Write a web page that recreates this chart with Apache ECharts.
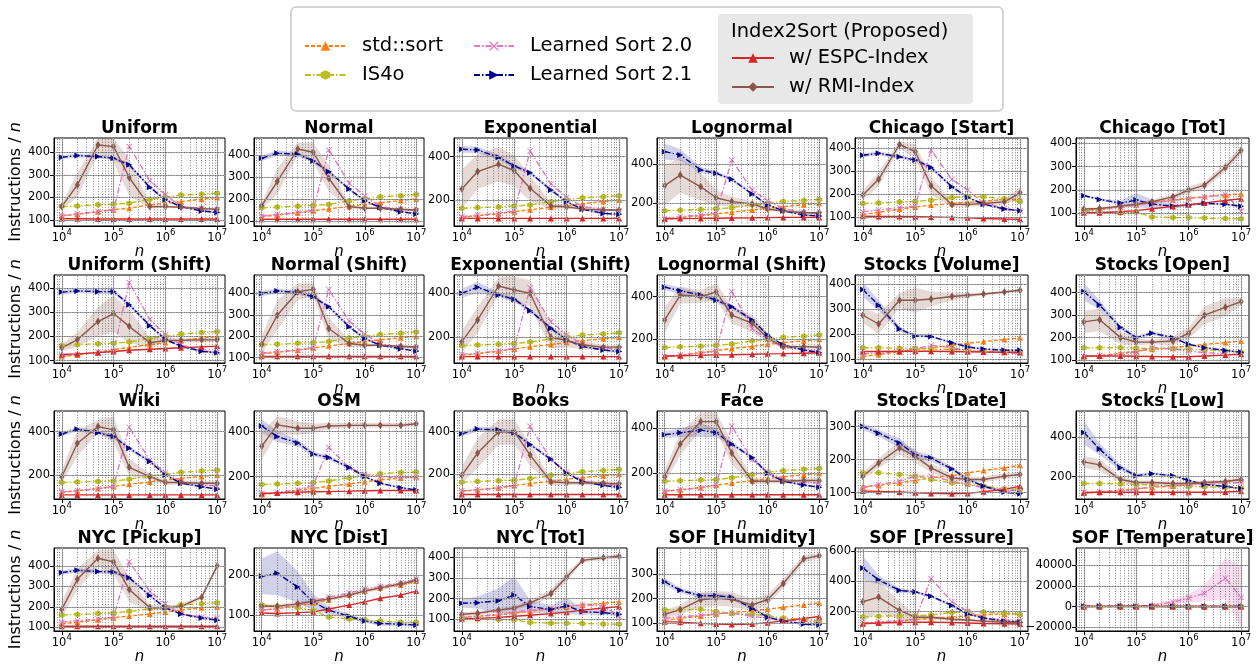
<!DOCTYPE html>
<html><head><meta charset="utf-8">
<script src="https://cdn.jsdelivr.net/npm/echarts@6/dist/echarts.min.js"></script>
<style>html,body{margin:0;padding:0;background:#fff}#c{width:1257px;height:666px}</style>
</head><body><div id="c"></div>
<script>
const N = [1e4,2e4,5e4,1e5,2e5,5e5,1e6,2e6,5e6,1e7];
const X_TICKS = [1e4,1e5,1e6,1e7];
const TITLES = ['Uniform','Normal','Exponential','Lognormal','Chicago [Start]','Chicago [Tot]',
 'Uniform (Shift)','Normal (Shift)','Exponential (Shift)','Lognormal (Shift)','Stocks [Volume]','Stocks [Open]',
 'Wiki','OSM','Books','Face','Stocks [Date]','Stocks [Low]',
 'NYC [Pickup]','NYC [Dist]','NYC [Tot]','SOF [Humidity]','SOF [Pressure]','SOF [Temperature]'];
const Y_MIN = [73,77,80,84,63,46, 90,75,83,89,84,87, 89,100,84,86,81,86, 82,60,44,69,72,-23700];
const Y_MAX = [463,477,486,535,442,423, 455,486,483,502,436,479, 495,492,497,477,347,534, 487,268,445,406,620,57000];
const Y_TICKS = [[100,200,300,400],[100,200,300,400],[200,400],[200,400],[100,200,300,400],[100,200,300,400],
 [100,200,300,400],[100,200,300,400],[200,400],[200,400],[100,200,300,400],[100,200,300,400],
 [200,400],[200,400],[200,400],[200,400],[100,200,300],[200,400],
 [100,200,300,400],[100,200],[100,200,300,400],[100,200,300],[200,400,600],[-20000,0,20000,40000]];

const STD_SORT = [
 [118,125,136,145,152,167,174,181,192,199],[120,127,137,146,155,166,175,183,193,200],[120,127,137,146,155,166,175,183,193,200],
 [120,127,137,146,155,166,175,183,193,200],[113,122,135,145,153,160,165,170,177,180],[112,118,128,138,148,158,165,172,178,184],
 [117,123,135,145,155,166,175,183,193,200],[118,125,135,145,155,166,175,183,193,200],[118,125,137,147,157,167,177,185,193,200],
 [118,125,137,147,157,167,177,185,193,200],[110,118,128,138,145,155,163,170,178,185],[115,120,130,140,148,155,163,170,178,185],
 [120,127,137,147,157,167,177,185,193,200],[120,127,137,147,157,167,177,185,193,200],[120,127,137,147,157,167,177,185,193,200],
 [120,127,137,147,157,167,177,185,193,200],[118,122,130,137,145,152,160,167,175,183],[118,122,130,138,145,152,160,168,175,185],
 [118,125,137,147,155,165,175,185,195,200],[112,116,122,130,138,150,160,168,175,185],[110,115,122,130,140,150,160,170,178,185],
 [112,120,130,138,145,150,158,165,175,183],[120,128,138,148,155,165,172,180,185,188],[118,125,136,145,155,165,175,183,192,200]];
const IS4O = [
 [159,162,167,170,174,192,201,210,214,218],[160,163,167,171,175,192,200,210,215,220],[162,165,168,172,177,192,201,210,215,220],
 [162,165,168,172,178,193,201,210,215,220],[160,162,166,169,174,186,190,189,180,168],[107,107,102,105,85,82,82,80,78,77],
 [163,166,170,172,177,192,200,210,216,220],[160,163,167,170,175,192,200,208,214,220],[162,165,168,172,178,193,201,210,215,220],
 [162,165,168,172,178,193,201,210,215,220],[145,145,143,142,140,138,135,132,130,128],[155,155,155,153,152,150,148,145,140,135],
 [165,167,170,172,180,195,203,212,218,222],[165,167,170,172,180,195,205,212,218,220],[163,166,170,172,180,195,203,212,218,222],
 [165,167,170,172,180,195,205,212,218,222],[160,160,155,150,140,130,125,120,112,110],[165,165,163,160,158,155,150,148,145,142],
 [160,163,167,170,178,190,200,210,215,220],[125,122,118,112,95,90,88,85,82,82],[105,103,100,98,85,82,82,80,78,77],
 [155,155,157,148,140,137,130,122,115,110],[165,170,172,172,178,195,200,197,192,180],[160,163,167,170,175,190,200,210,215,220]];
const LS20 = [
 [119,127,137,145,425,274,211,159,152,145],[123,130,138,150,423,271,214,165,153,147],[123,131,138,149,426,274,212,169,157,149],
 [123,132,140,152,422,268,214,174,154,145],[124,132,142,149,390,264,218,163,139,129],[110,115,125,135,145,155,163,170,182,110],
 [120,125,135,140,424,271,207,165,140,135],[122,128,135,148,418,270,210,165,150,145],[122,128,137,150,425,270,210,168,152,145],
 [120,127,135,145,425,250,200,165,150,145],[120,125,130,140,155,145,135,130,125,122],[115,120,125,135,155,150,140,133,128,122],
 [122,128,135,148,420,268,210,170,155,148],[125,130,140,160,330,240,210,200,195,195],[122,128,135,148,425,270,210,170,155,148],
 [122,128,135,150,410,260,205,175,162,155],[115,125,135,150,150,135,125,115,110,105],[120,122,128,135,150,155,158,160,165,170],
 [125,132,140,150,420,275,215,165,150,145],[112,116,125,135,145,155,165,172,180,190],[110,115,125,135,145,150,165,170,165,115],
 [120,127,133,140,142,128,122,115,108,105],[125,133,140,150,418,265,200,160,145,140],[120,130,140,500,1200,4500,8300,12900,27700,8900]];
const LS21 = [
 [378,385,381,373,344,245,189,159,140,133],[385,408,403,373,324,245,192,161,142,132],[434,431,397,357,326,246,192,158,138,134],
 [465,448,371,354,323,248,192,162,140,135],[368,376,361,347,315,232,186,157,136,129],[176,160,144,157,140,131,136,143,139,131],
 [384,389,386,386,332,245,188,159,139,132],[400,411,405,384,338,244,189,158,142,130],[400,427,392,373,321,241,188,158,142,135],
 [445,428,408,384,353,291,220,173,150,137],[378,315,220,192,190,165,148,140,135,135],[405,345,245,200,220,200,170,155,143,135],
 [389,411,395,377,323,262,200,162,146,134],[425,378,350,300,285,240,200,170,150,140],[390,412,408,395,340,270,205,165,148,138],
 [372,380,392,380,330,270,200,165,148,138],[300,280,250,215,205,172,140,120,102,97],[425,340,245,205,215,205,180,160,150,140],
 [367,378,372,370,342,255,195,165,145,135],[197,205,170,133,112,97,85,79,77,75],[178,181,190,218,162,148,166,137,133,125],
 [269,234,212,212,206,160,125,109,97,94],[488,410,340,330,302,241,184,157,137,129],[300,280,250,240,230,180,140,120,100,95]];
const ESPC = [
 [105,105,104,104,104,104,104,104,104,104],[108,108,108,108,108,108,108,108,108,108],[115,115,115,115,115,115,115,115,115,115],
 [121,122,123,124,125,126,127,128,128,128],[105,104,104,103,102,100,98,95,93,92],[103,103,107,112,120,130,137,145,155,163],
 [125,128,133,138,143,147,150,153,157,160],[106,106,106,106,106,106,106,106,106,106],[112,112,112,112,112,112,112,112,112,112],
 [122,123,125,127,128,130,132,133,135,137],[130,130,131,131,131,130,129,128,127,126],[118,118,118,117,116,115,115,118,122,127],
 [108,108,108,108,108,108,108,108,108,108],[125,127,130,132,133,135,137,138,138,138],[105,105,105,105,105,105,105,105,105,105],
 [105,105,105,105,105,105,105,105,105,105],[105,104,102,100,98,97,98,103,110,120],[118,120,120,120,120,120,120,120,122,125],
 [105,105,105,105,105,105,105,105,105,105],[105,104,106,108,115,125,133,142,150,160],[103,105,110,115,120,128,135,145,155,162],
 [107,105,100,97,95,97,103,110,120,128],[120,125,128,130,130,128,125,122,120,118],[105,105,105,105,105,105,105,105,105,105]];
const RMI = [
 [159,255,432,425,288,159,159,156,150,147],[170,279,427,412,294,165,158,158,153,150],[251,331,365,335,254,172,169,158,154,154],
 [291,345,285,229,209,197,171,161,152,152],[196,264,414,383,236,156,156,160,167,206],[119,121,131,139,150,171,200,221,297,369],
 [153,187,262,295,242,174,184,184,186,186],[162,298,408,419,236,166,158,158,153,150],[180,279,433,415,400,200,185,165,155,155],
 [291,408,400,423,314,275,205,166,166,163],[275,240,335,335,340,350,355,360,368,375],[270,280,200,180,180,185,220,300,335,360],
 [192,346,423,408,235,192,165,165,162,162],[335,430,415,415,425,428,428,428,428,435],[195,300,398,400,290,165,160,160,158,155],
 [185,330,430,430,290,165,165,165,168,168],[150,190,235,210,175,145,140,140,150,155],[275,260,185,170,170,165,165,170,175,185],
 [187,334,437,419,285,195,195,202,247,400],[122,122,128,135,140,150,160,168,178,187],[125,130,145,155,180,225,305,385,398,405],
 [137,156,196,202,197,175,197,262,362,375],[265,296,208,163,163,150,145,137,130,130],[160,255,420,420,285,160,160,155,150,150]];
// half widths of the shaded spread
const BAND_LS21 = [
 [8,8,8,8,10,8,5,5,5,5],[12,12,10,8,8,8,5,5,5,5],[15,15,12,10,10,8,5,5,5,5],[40,30,15,10,10,8,5,5,5,5],
 [8,8,8,8,10,8,5,5,5,5],[5,5,10,30,20,10,5,5,5,5],[10,10,10,10,10,8,5,5,5,5],[12,12,10,8,10,8,5,5,5,5],
 [20,25,10,10,10,8,5,5,5,5],[15,15,10,10,10,8,5,5,5,5],[30,20,10,5,5,5,5,5,5,5],[40,20,10,8,8,5,5,5,5,5],
 [10,10,10,10,10,8,5,5,5,5],[30,25,15,10,10,8,5,5,5,5],[12,12,10,10,10,8,5,5,5,5],[15,20,30,20,10,8,5,5,5,5],
 [10,10,15,10,10,8,5,5,5,5],[60,30,15,10,8,5,5,5,5,5],[10,10,10,10,10,8,5,5,5,5],[45,55,40,20,10,5,5,5,5,5],
 [20,30,60,90,30,20,40,15,10,10],[15,10,10,10,10,8,8,5,5,5],[80,30,15,10,10,10,5,5,5,5],[0,0,0,0,0,0,0,0,0,0]];
const BAND_RMI = [
 [10,55,40,70,80,10,5,5,5,5],[15,60,30,45,60,10,5,5,5,5],[90,80,80,70,60,15,8,5,5,5],[100,90,70,40,25,15,10,5,5,5],
 [20,30,15,30,40,10,10,10,10,25],[5,5,5,5,10,10,15,15,20,20],[15,30,60,75,70,20,10,10,10,10],[40,70,40,30,50,15,10,5,5,5],
 [50,60,40,60,60,50,30,20,10,10],[60,40,30,40,40,40,20,10,10,10],[30,40,30,50,30,15,10,5,5,5],[50,50,30,15,10,20,25,40,40,15],
 [30,60,30,60,40,15,10,10,10,10],[60,40,30,20,15,10,10,10,10,10],[40,70,60,60,50,15,10,10,10,10],[30,50,40,40,50,15,10,10,10,10],
 [10,15,20,20,15,10,8,8,8,8],[30,30,15,10,10,10,10,10,10,10],[40,50,40,60,60,15,10,10,10,10],[5,5,5,5,5,5,5,5,5,5],
 [10,10,10,10,15,20,20,10,10,10],[15,20,30,30,30,25,20,20,15,10],[130,100,60,20,15,10,10,10,10,10],[0,0,0,0,0,0,0,0,0,0]];
const BAND_LS20_TEMP = [0,0,0,200,1000,2000,4000,8000,20000,30000];

// ---- layout ----
const COL_LEFT = [54,254,454,657,855,1076];
const COL_W = [171,170,173,170,173,173];
const ROW_TOP = [138,275,411,548];
const ROW_H = 88;
const X_MIN = Math.pow(10,3.85), X_MAX = Math.pow(10,7.15);
const MINOR = [];
for (let k=3;k<=6;k++) for (let m=2;m<=9;m++){ const v=m*Math.pow(10,k); if (v>X_MIN && v<X_MAX) MINOR.push(v); }

const HEX='path://M0,-1L0.866,-0.5L0.866,0.5L0,1L-0.866,0.5L-0.866,-0.5Z';
const XS='path://M-1,-0.8L-0.8,-1L0,-0.2L0.8,-1L1,-0.8L0.2,0L1,0.8L0.8,1L0,0.2L-0.8,1L-1,0.8L-0.2,0Z';
const TRIR='path://M0,0L2,1L0,2Z';
const DIA='path://M0,-1L0.6,0L0,1L-0.6,0Z';
const DD=[6,2,1.5,2];
const STYLES = [
 {name:'std::sort', data:STD_SORT, color:'#ff7f0e', type:[4,2], symbol:'triangle', size:6},
 {name:'IS4o', data:IS4O, color:'#bcbd22', type:DD, symbol:HEX, size:6},
 {name:'Learned Sort 2.0', data:LS20, color:'#e377c2', type:DD, symbol:XS, size:6},
 {name:'Learned Sort 2.1', data:LS21, color:'#00008b', type:DD, symbol:TRIR, size:6},
 {name:'w/ ESPC-Index', data:ESPC, color:'#d62728', type:'solid', symbol:'triangle', size:6},
 {name:'w/ RMI-Index', data:RMI, color:'#8c564b', type:'solid', symbol:DIA, size:[5,8]}
];

const option = {animation:false, textStyle:{fontFamily:'DejaVu Sans'}, grid:[], xAxis:[], yAxis:[], series:[], graphic:[]};
const graphics = [
 {type:'rect', shape:{x:291,y:7,width:712,height:104,r:5}, style:{fill:'#fff',stroke:'#c8c8c8',lineWidth:1.5}, z:-1},
 {type:'rect', shape:{x:718,y:14,width:255,height:90,r:4}, style:{fill:'#e8e8e8'}, z:-1},
 {type:'text', x:731, y:32, style:{text:'Index2Sort (Proposed)', font:'19.5px "DejaVu Sans"', fill:'#000', textVerticalAlign:'middle'}}
];

function band(i, mean, hw, color){
  if (!hw || hw.every(v=>v===0)) return;
  option.series.push({type:'custom', name:'_b', xAxisIndex:i, yAxisIndex:i, silent:true, z:1,
    data:N.map((x,k)=>[x, mean[k]-hw[k], mean[k]+hw[k]]), encode:{x:0, y:[1,2]},
    renderItem:(params, api)=>{
      if (params.dataIndex!==0) return;
      const pts=[];
      for (let k=0;k<N.length;k++) pts.push(api.coord([N[k], mean[k]+hw[k]]));
      for (let k=N.length-1;k>=0;k--) pts.push(api.coord([N[k], mean[k]-hw[k]]));
      const cs=params.coordSys;
      const clipped=echarts.graphic.clipPointsByRect(pts,{x:cs.x,y:cs.y,width:cs.width,height:cs.height});
      return {type:'polygon', shape:{points:clipped}, style:{fill:color}};
    }});
}

for (let i=0;i<24;i++){
  const r=Math.floor(i/6), c=i%6;
  option.grid.push({left:COL_LEFT[c], top:ROW_TOP[r], width:COL_W[c], height:ROW_H, show:true, borderColor:'#000', borderWidth:1, backgroundColor:'rgba(0,0,0,0)'});
  graphics.push({type:'text', x:COL_LEFT[c]+COL_W[c]/2, y:ROW_TOP[r]-1, style:{text:TITLES[i], font:'bold 17px "DejaVu Sans"', fill:'#000', textAlign:'center', textVerticalAlign:'bottom'}});
  option.xAxis.push({type:'log', logBase:10, gridIndex:i, min:X_MIN, max:X_MAX,
    name:'n', nameLocation:'middle', nameGap:19, nameTextStyle:{fontSize:15, fontStyle:'italic', color:'#000'},
    axisLine:{show:true, onZero:false, lineStyle:{color:'#000'}}, splitLine:{show:false},
    axisTick:{show:true, customValues:X_TICKS, length:4, lineStyle:{color:'#000'}},
    axisLabel:{customValues:X_TICKS, color:'#000', margin:2,
      formatter:v=>'{b|10}{s|'+Math.round(Math.log10(v))+'}',
      rich:{b:{fontSize:11.5, lineHeight:16, verticalAlign:'bottom', color:'#000'}, s:{fontSize:8.5, lineHeight:9, verticalAlign:'top', color:'#000'}}}});
  const ya = {type:'value', gridIndex:i, min:Y_MIN[i], max:Y_MAX[i],
    axisLine:{show:true, onZero:false, lineStyle:{color:'#000'}}, splitLine:{show:false},
    axisTick:{show:true, customValues:Y_TICKS[i], length:4, lineStyle:{color:'#000'}},
    axisLabel:{customValues:Y_TICKS[i], fontSize:11.5, color:'#000', margin:4,
      formatter:v=> v<0 ? '\u2212'+(-v) : String(v)}};
  if (c===0){
    ya.name='Instructions / {i|n}'; ya.nameLocation='middle'; ya.nameGap=29;
    ya.nameTextStyle={fontSize:16, color:'#000', rich:{i:{fontSize:16, fontStyle:'italic', color:'#000'}}};
  }
  option.yAxis.push(ya);

  band(i, LS21[i], BAND_LS21[i], 'rgba(0,0,139,0.18)');
  band(i, RMI[i], BAND_RMI[i], 'rgba(140,86,75,0.22)');
  if (i===23) band(i, LS20[i], BAND_LS20_TEMP, 'rgba(227,119,194,0.25)');

  const ml=[];
  const solid={type:'solid', color:'#b0b0b0', width:1.2};
  const dot={type:[1,1.6], color:'#555', width:0.7};
  X_TICKS.forEach(v=>ml.push({xAxis:v, lineStyle:solid}));
  Y_TICKS[i].forEach(v=>ml.push({yAxis:v, lineStyle:solid}));
  X_TICKS.concat(MINOR).forEach(v=>ml.push({xAxis:v, lineStyle:dot}));
  Y_TICKS[i].forEach(v=>ml.push({yAxis:v, lineStyle:dot}));
  option.series.push({type:'line', name:'_g', xAxisIndex:i, yAxisIndex:i, data:[], silent:true, z:2,
    markLine:{symbol:['none','none'], silent:true, animation:false, label:{show:false}, emphasis:{disabled:true}, data:ml}});

  STYLES.forEach(s=>{
    option.series.push({type:'line', name:s.name, xAxisIndex:i, yAxisIndex:i, z:3,
      data:N.map((x,k)=>[x, s.data[i][k]]), symbol:s.symbol, symbolSize:s.size, showSymbol:true,
      lineStyle:{color:s.color, width:1.4, type:s.type}, itemStyle:{color:s.color}, emphasis:{disabled:true}});
  });
}
option.graphic = graphics;
const legTxt = {fontSize:19.5, color:'#000', fontFamily:'DejaVu Sans', padding:[0,0,0,11]};
option.legend = [
 {data:['std::sort','IS4o'], orient:'vertical', left:304, top:36, padding:0, itemWidth:41, itemHeight:12, itemGap:9, selectedMode:false, textStyle:legTxt},
 {data:['Learned Sort 2.0','Learned Sort 2.1'], orient:'vertical', left:473, top:36, padding:0, itemWidth:40, itemHeight:12, itemGap:9, selectedMode:false, textStyle:legTxt},
 {data:['w/ ESPC-Index','w/ RMI-Index'], orient:'vertical', left:731, top:48, padding:0, itemWidth:42, itemHeight:12, itemGap:9, selectedMode:false, textStyle:Object.assign({}, legTxt, {padding:[0,0,0,10]})}
];
const chart = echarts.init(document.getElementById('c'), null, {renderer:'canvas'});
chart.setOption(option);
</script></body></html>
